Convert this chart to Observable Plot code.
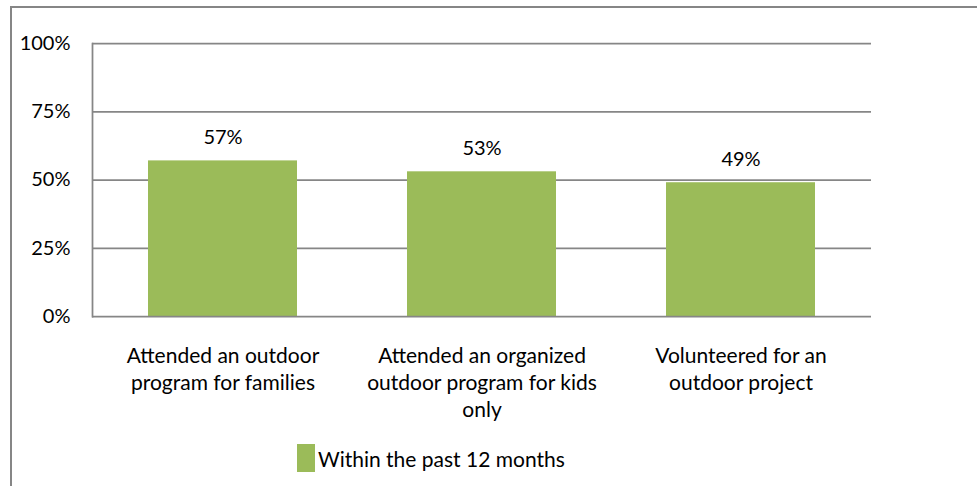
<!DOCTYPE html>
<html>
<head>
<meta charset="utf-8">
<script src="https://cdn.jsdelivr.net/npm/d3@7"></script>
<script src="https://cdn.jsdelivr.net/npm/@observablehq/plot@0.6"></script>
<style>
  html, body { margin: 0; padding: 0; background: #fff; }
  body { width: 977px; height: 486px; position: relative; overflow: hidden; font-family: Lato, "Liberation Sans", sans-serif; }
  #border { position: absolute; left: 10px; top: 6px; width: 1000px; height: 520px; border-left: 2px solid #868686; border-top: 2px solid #868686; box-sizing: border-box; }
  #chart { position: absolute; left: 0; top: 0; }
  #legend { position: absolute; left: 297px; top: 444px; display: flex; align-items: center; font-size: 21px; color: #000; }
  #legend .sw { width: 18px; height: 28px; background: #9BBB59; margin-right: 3px; }
</style>
</head>
<body>
<div id="border"></div>
<div id="chart"></div>
<div id="legend"></div>
<script>
const categories = [
  "Attended an outdoor\nprogram for families",
  "Attended an organized\noutdoor program for kids\nonly",
  "Volunteered for an\noutdoor project"
];
const values = [0.57, 0.53, 0.49];
const seriesName = "Within the past 12 months";
const yTicks = [0, 0.25, 0.5, 0.75, 1];

const data = categories.map((c, i) => ({category: c, value: values[i]}));
const gray = "#868686";
const green = "#9BBB59";

const chart = Plot.plot({
  width: 977,
  height: 430,
  marginLeft: 92,
  marginRight: 106,
  marginTop: 43,
  marginBottom: 114,
  style: {fontFamily: "Lato, 'Liberation Sans', sans-serif", color: "#000", background: "transparent"},
  x: {domain: categories, paddingInner: 0.426, paddingOuter: 0.213, label: null},
  y: {domain: [0, 1], label: null},
  marks: [
    Plot.ruleY(yTicks.slice(1), {stroke: gray, strokeWidth: 1.75}),
    Plot.barY(data, {x: "category", y: "value", fill: green}),
    Plot.ruleY([0], {stroke: gray, strokeWidth: 1.75}),
    Plot.frame({anchor: "left", stroke: gray, strokeWidth: 1.75}),
    Plot.text(data, {x: "category", y: "value", text: d => Math.round(d.value * 100) + "%", dy: -23, fontSize: 20, fill: "#000"}),
    Plot.axisY({ticks: yTicks, tickFormat: d => Math.round(d * 100) + "%", tickSize: 0, tickPadding: 22, fontSize: 20, label: null}),
    Plot.axisX({tickSize: 0, tickPadding: 27, fontSize: 21, lineHeight: 1.3, label: null})
  ]
});
document.getElementById("chart").appendChild(chart);

const legend = document.getElementById("legend");
legend.innerHTML = `<div class="sw"></div><span>${seriesName}</span>`;
</script>
</body>
</html>
